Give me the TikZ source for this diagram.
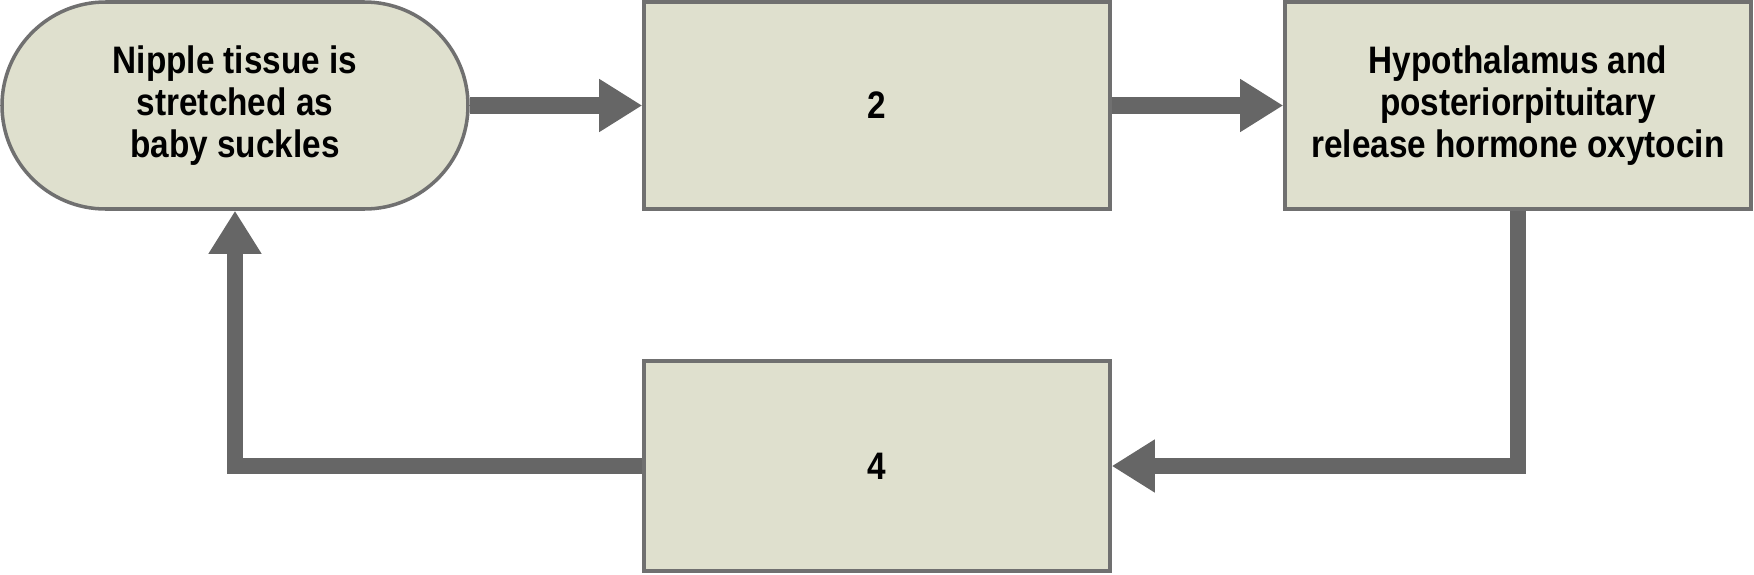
\documentclass[tikz,border=0pt]{standalone}
\usepackage{fontspec}
\setmainfont{Liberation Sans}[FakeStretch=0.87]
\usetikzlibrary{arrows.meta,shapes.misc}
\definecolor{boxfill}{HTML}{DFE0CE}
\definecolor{boxline}{HTML}{707070}
\definecolor{arrowgray}{HTML}{666666}
\tikzset{
    stepbox/.style={draw=boxline, fill=boxfill, line width=1pt,
        minimum width=4.66cm, minimum height=2.07cm, align=center,
        font=\bfseries\fontsize{10.9}{11.9}\selectfont, inner sep=0pt},
    startbox/.style={stepbox, rounded rectangle},
    flow/.style={draw=arrowgray, line width=4.6pt,
        -{Triangle[length=0.43cm, width=0.5cm]}}
}
\begin{document}
\begin{tikzpicture}
    \useasboundingbox (0,0) rectangle (17.54,-5.74);

    % Cajas
    \node[startbox] (stretch) at (2.35,-1.055) {Nipple tissue is\\stretched as\\baby suckles};
    \node[stepbox] (signal) at (8.77,-1.055) {2};
    \node[stepbox] (oxytocin) at (15.18,-1.055) {Hypothalamus and\\posteriorpituitary\\release hormone oxytocin};
    \node[stepbox, minimum height=2.1cm] (milk) at (8.77,-4.66) {4};

    % Flechas
    \draw[flow] (stretch.east) -- (signal.west);
    \draw[flow] (signal.east) -- (oxytocin.west);
    \draw[flow] (oxytocin.south) |- (milk.east);
    \draw[flow] (milk.west) -| (stretch.south);
\end{tikzpicture}
\end{document}
